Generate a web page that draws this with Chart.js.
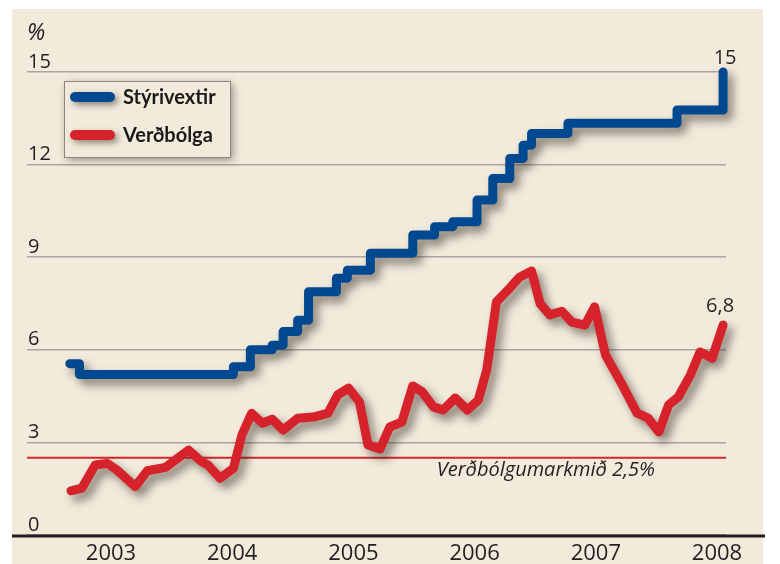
<!DOCTYPE html>
<html><head><meta charset="utf-8">
<script src="https://cdn.jsdelivr.net/npm/chart.js@4/dist/chart.umd.min.js"></script>
<style>html,body{margin:0;padding:0;background:#fff;}canvas{display:block;}</style>
</head><body>
<canvas id="c" width="780" height="564"></canvas>
<script>
// ---- data ----
const seriesNames = ['Stýrivextir', 'Verðbólga'];
// policy rate: date of each change (decimal year) and the new level
const rateDates  = [2002.66, 2002.74, 2004.01, 2004.15, 2004.33, 2004.42, 2004.54, 2004.63, 2004.86, 2004.95, 2005.14, 2005.49, 2005.67, 2005.82, 2006.02, 2006.15, 2006.29, 2006.40, 2006.47, 2006.77, 2007.67, 2008.05];
const rateValues = [5.55, 5.2, 5.45, 6.0, 6.15, 6.59, 6.96, 7.88, 8.32, 8.58, 9.13, 9.72, 9.99, 10.15, 10.85, 11.55, 12.2, 12.63, 13.01, 13.34, 13.77, 15];
// inflation
const inflDates  = [2002.67, 2002.76, 2002.87, 2002.97, 2003.05, 2003.20, 2003.30, 2003.45, 2003.64, 2003.75, 2003.80, 2003.90, 2004.01, 2004.08, 2004.16, 2004.25, 2004.33, 2004.42, 2004.54, 2004.67, 2004.79, 2004.87, 2004.96, 2005.05, 2005.12, 2005.22, 2005.30, 2005.40, 2005.49, 2005.57, 2005.66, 2005.74, 2005.84, 2005.94, 2006.03, 2006.10, 2006.18, 2006.29, 2006.37, 2006.47, 2006.54, 2006.62, 2006.72, 2006.80, 2006.91, 2006.99, 2007.08, 2007.22, 2007.34, 2007.43, 2007.52, 2007.60, 2007.68, 2007.78, 2007.86, 2007.96, 2008.05];
const inflValues = [1.43, 1.52, 2.27, 2.32, 2.1, 1.57, 2.08, 2.19, 2.75, 2.37, 2.27, 1.84, 2.16, 3.24, 3.94, 3.62, 3.75, 3.40, 3.78, 3.82, 3.95, 4.54, 4.76, 4.31, 2.92, 2.79, 3.5, 3.66, 4.83, 4.63, 4.15, 4.05, 4.44, 4.05, 4.37, 5.35, 7.55, 8.0, 8.35, 8.55, 7.5, 7.13, 7.25, 6.9, 6.8, 7.39, 5.83, 4.85, 3.95, 3.79, 3.34, 4.21, 4.47, 5.18, 5.93, 5.73, 6.8];
const xTickYears = [2003, 2004, 2005, 2006, 2007, 2008];
const yTickValues = [0, 3, 6, 9, 12, 15];
const targetValue = 2.5;
const targetLabel = 'Verðbólgumarkmið 2,5%';
const unitLabel = '%';

// ---- styles ----
const BLUE = '#004990', RED = '#d6232b', BEIGE = '#f2ebdc', INK = '#231f20';
const FONT = '"Open Sans", "Liberation Sans", sans-serif';

const fmt = v => String(v).replace('.', ',');

const shadowPlugin = {
  id: 'shadow',
  beforeDatasetDraw(chart) {
    const ctx = chart.ctx; ctx.save();
    ctx.shadowColor = 'rgba(45,35,25,0.55)'; ctx.shadowBlur = 10;
    ctx.shadowOffsetX = 5; ctx.shadowOffsetY = 6;
  },
  afterDatasetDraw(chart) { chart.ctx.restore(); }
};

const decorPlugin = {
  id: 'decor',
  beforeDraw(chart) {
    const ctx = chart.ctx; ctx.save();
    ctx.fillStyle = BEIGE; ctx.fillRect(12, 9, 751, 555);
    ctx.restore();
  },
  beforeDatasetsDraw(chart) {
    const ctx = chart.ctx, ca = chart.chartArea, y = chart.scales.y;
    const py = y.getPixelForValue(targetValue);
    ctx.save();
    ctx.strokeStyle = '#d4242c'; ctx.lineWidth = 2;
    ctx.beginPath(); ctx.moveTo(ca.left, py); ctx.lineTo(ca.right, py); ctx.stroke();
    ctx.fillStyle = INK; ctx.font = 'italic 20px ' + FONT;
    ctx.textAlign = 'right'; ctx.textBaseline = 'middle';
    ctx.fillText(targetLabel, 655, py + 12);
    ctx.restore();
  },
  afterDraw(chart) {
    const ctx = chart.ctx, xs = chart.scales.x, ys = chart.scales.y;
    ctx.save();
    // axis line
    ctx.strokeStyle = INK; ctx.lineWidth = 3;
    ctx.beginPath(); ctx.moveTo(12, 536); ctx.lineTo(765, 536); ctx.stroke();
    // unit
    ctx.fillStyle = INK; ctx.font = 'italic 23px ' + FONT;
    ctx.textAlign = 'left'; ctx.textBaseline = 'middle';
    ctx.fillText(unitLabel, 27, 33);
    // end labels
    ctx.font = '20px ' + FONT; ctx.textAlign = 'center';
    const lr = rateValues.length - 1, li = inflValues.length - 1;
    ctx.fillText(fmt(rateValues[lr]), xs.getPixelForValue(rateDates[lr]) + 2, ys.getPixelForValue(rateValues[lr]) - 14);
    ctx.fillText(fmt(inflValues[li]), xs.getPixelForValue(inflDates[li]) - 3, ys.getPixelForValue(inflValues[li]) - 19);
    // legend box
    ctx.save();
    ctx.shadowColor = 'rgba(40,30,20,0.45)'; ctx.shadowBlur = 8; ctx.shadowOffsetX = 3; ctx.shadowOffsetY = 3;
    ctx.fillStyle = BEIGE; ctx.fillRect(64, 81, 166, 76);
    ctx.restore();
    ctx.strokeStyle = '#8a8782'; ctx.lineWidth = 1;
    ctx.strokeRect(64.5, 81.5, 166, 76);
    const rows = [97, 135];
    chart.data.datasets.forEach((ds, i) => {
      ctx.save();
      ctx.shadowColor = 'rgba(45,35,25,0.5)'; ctx.shadowBlur = 6; ctx.shadowOffsetX = 3; ctx.shadowOffsetY = 3;
      ctx.strokeStyle = ds.borderColor; ctx.lineWidth = 10; ctx.lineCap = 'round';
      ctx.beginPath(); ctx.moveTo(75, rows[i]); ctx.lineTo(110, rows[i]); ctx.stroke();
      ctx.restore();
      ctx.fillStyle = '#1a1a1a'; ctx.font = 'bold 20px Lato, ' + FONT;
      ctx.textAlign = 'left'; ctx.textBaseline = 'middle';
      ctx.fillText(ds.label, 123, rows[i] + 1);
    });
    ctx.restore();
  }
};

new Chart(document.getElementById('c'), {
  type: 'line',
  data: {
    datasets: [
      { label: seriesNames[0], data: rateDates.map((d, i) => ({ x: d, y: rateValues[i] })),
        borderColor: BLUE, borderWidth: 9, stepped: true, pointRadius: 0,
        borderJoinStyle: 'round', borderCapStyle: 'round', clip: false, fill: false },
      { label: seriesNames[1], data: inflDates.map((d, i) => ({ x: d, y: inflValues[i] })),
        borderColor: RED, borderWidth: 9, tension: 0, pointRadius: 0,
        borderJoinStyle: 'round', borderCapStyle: 'round', clip: false, fill: false }
    ]
  },
  options: {
    responsive: false, animation: false, devicePixelRatio: 1,
    layout: { padding: { left: 27, right: 54, top: 26, bottom: 0 } },
    plugins: { legend: { display: false }, tooltip: { enabled: false } },
    scales: {
      x: {
        type: 'linear', min: 2002.307, max: 2008.074,
        afterBuildTicks: s => { s.ticks = xTickYears.map(v => ({ value: v })); },
        afterFit: s => { s.height = 29; },
        grid: { display: false }, border: { display: false },
        ticks: { autoSkip: false, maxRotation: 0, padding: -2, color: INK,
          font: { family: FONT, size: 22 }, callback: v => String(v) }
      },
      y: {
        min: 0, max: 16.49,
        afterBuildTicks: s => { s.ticks = yTickValues.map(v => ({ value: v })); },
        afterFit: s => { s.width = 0; },
        grid: { color: '#a8a6a0', lineWidth: 1.5, drawTicks: false }, border: { display: false },
        ticks: { mirror: true, padding: 1, labelOffset: -10, color: INK,
          font: { family: FONT, size: 20 }, callback: v => String(v) }
      }
    }
  },
  plugins: [shadowPlugin, decorPlugin]
});
</script>
</body></html>
